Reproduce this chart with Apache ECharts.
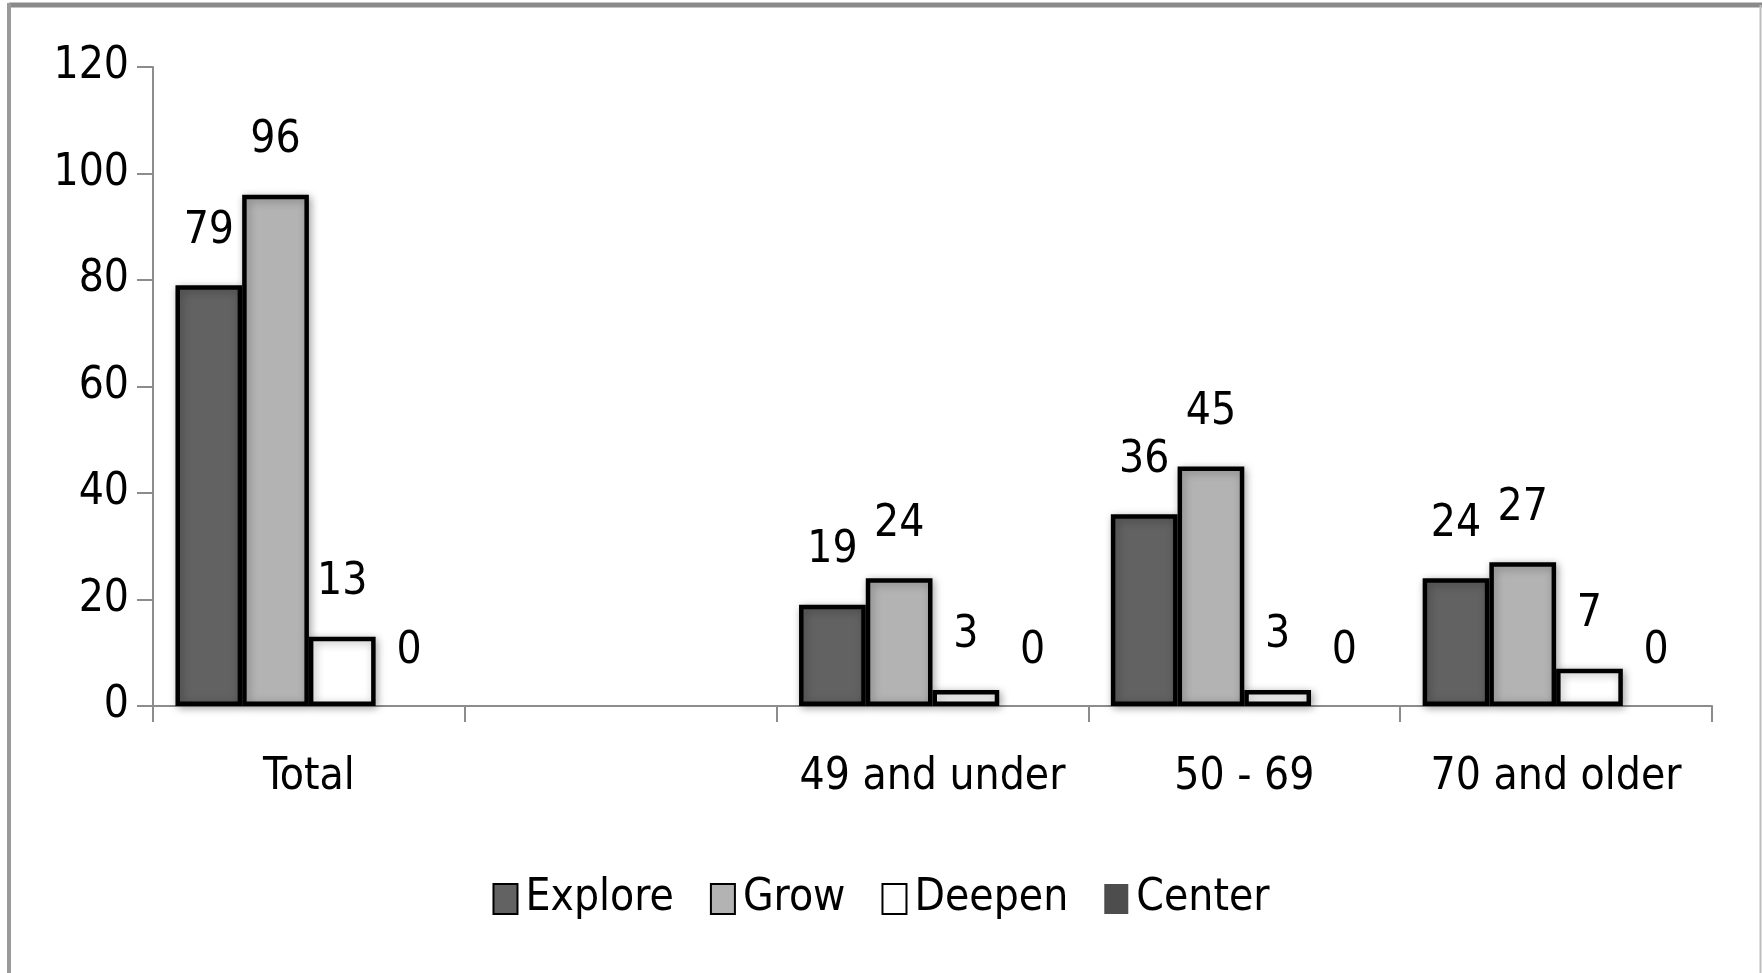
<!DOCTYPE html>
<html>
<head>
<meta charset="utf-8">
<script src="https://cdn.jsdelivr.net/npm/echarts@6/dist/echarts.min.js"></script>
<style>
html,body{margin:0;padding:0;background:#fff;}
#chart{width:1762px;height:973px;}
</style>
</head>
<body>
<div id="chart"></div>
<script>
const categories = ['Total', '', '49 and under', '50 - 69', '70 and older'];
const seriesNames = ['Explore', 'Grow', 'Deepen', 'Center'];
const explore = [79, null, 19, 36, 24];
const grow = [96, null, 24, 45, 27];
const deepen = [13, null, 3, 3, 7];
const center = [0, null, 0, 0, 0];
const yTicks = { min: 0, max: 120, interval: 20 };

const FONT = '"Liberation Sans Narrow", "DejaVu Sans Condensed", sans-serif';
const colors = ['#626262', '#b3b3b3', '#ffffff', '#4d4d4d'];
const borders = [4.5, 4.5, 4.5, 0];
const values = [explore, grow, deepen, center];

const chart = echarts.init(document.getElementById('chart'));
chart.setOption({
  animation: false,
  backgroundColor: '#fff',
  textStyle: { fontFamily: FONT },
  grid: { left: 153, right: 50, top: 67, bottom: 267, containLabel: false },
  legend: {
    data: seriesNames,
    left: 'center',
    top: 872,
    itemWidth: 24,
    itemHeight: 30,
    itemGap: 36,
    textStyle: { fontFamily: FONT, fontSize: 44, color: '#000', padding: [0, 0, 0, 3] },
    icon: 'rect'
  },
  xAxis: {
    type: 'category',
    data: categories,
    axisLine: { lineStyle: { color: '#8c8c8c', width: 2 } },
    axisTick: { show: true, length: 16, lineStyle: { color: '#8c8c8c', width: 2 } },
    axisLabel: { fontFamily: FONT, fontSize: 44, color: '#000', margin: 50, interval: 0, hideOverlap: false }
  },
  yAxis: {
    type: 'value',
    min: yTicks.min, max: yTicks.max, interval: yTicks.interval,
    splitLine: { show: false },
    axisLine: { show: true, lineStyle: { color: '#8c8c8c', width: 2 } },
    axisTick: { show: true, length: 16, lineStyle: { color: '#8c8c8c', width: 2 } },
    axisLabel: { fontFamily: FONT, fontSize: 44, color: '#000', margin: 24 }
  },
  series: seriesNames.map((name, i) => ({
    name: name,
    type: 'bar',
    data: values[i],
    barGap: '0%',
    barCategoryGap: '14.4%',
    itemStyle: {
      color: colors[i],
      borderColor: '#000',
      borderWidth: borders[i],
      shadowBlur: 8,
      shadowColor: 'rgba(0,0,0,0.3)',
      shadowOffsetX: 2,
      shadowOffsetY: 2
    },
    label: {
      show: true,
      position: 'top',
      distance: 32,
      fontFamily: FONT,
      fontSize: 44,
      color: '#000'
    }
  })),
  graphic: [
    { type: 'line', shape: { x1: 9, y1: 5, x2: 1762, y2: 5 }, style: { stroke: '#8a8a8a', lineWidth: 5 } },
    { type: 'line', shape: { x1: 9, y1: 3, x2: 9, y2: 973 }, style: { stroke: '#9a9a9a', lineWidth: 4 } },
    { type: 'line', shape: { x1: 1760.5, y1: 5, x2: 1760.5, y2: 973 }, style: { stroke: '#bdbdbd', lineWidth: 2 } }
  ]
});
</script>
</body>
</html>
